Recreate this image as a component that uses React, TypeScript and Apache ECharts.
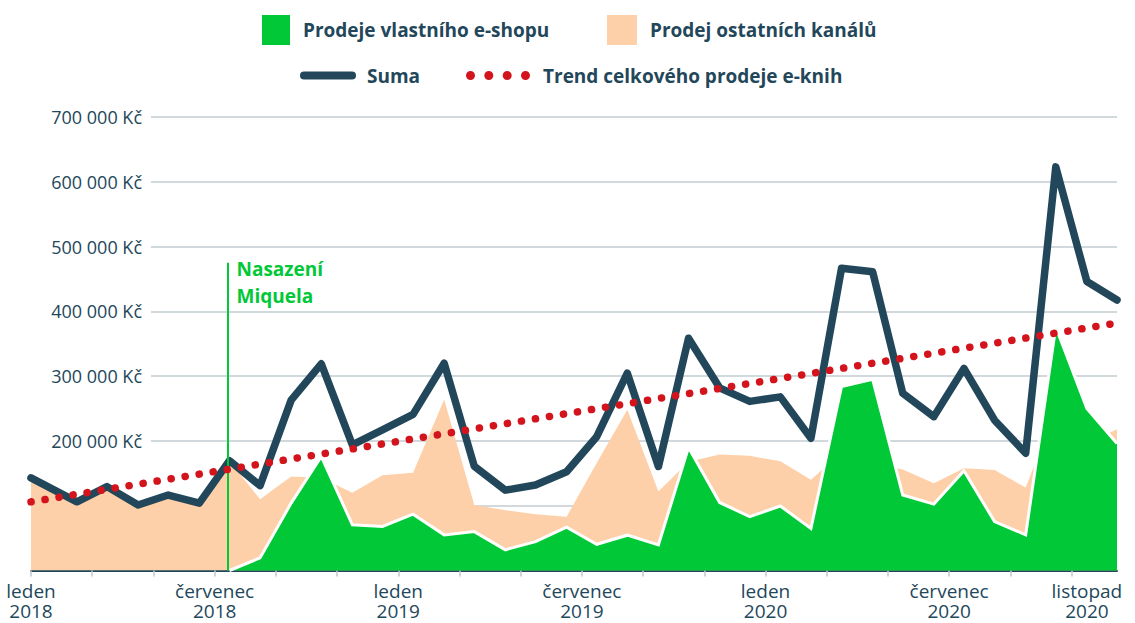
import React, { useEffect, useRef } from 'react';
import * as echarts from 'echarts';

// ---------- DATA ----------
const dates = [
  '2018-01-01', '2018-02-15', '2018-03-16', '2018-04-16', '2018-05-16', '2018-06-16',
  '2018-07-16', '2018-08-16', '2018-09-16', '2018-10-16', '2018-11-16', '2018-12-16',
  '2019-01-16', '2019-02-15', '2019-03-16', '2019-04-16', '2019-05-16', '2019-06-16',
  '2019-07-16', '2019-08-16', '2019-09-16', '2019-10-16', '2019-11-16', '2019-12-16',
  '2020-01-16', '2020-02-15', '2020-03-16', '2020-04-16', '2020-05-16', '2020-06-16',
  '2020-07-16', '2020-08-16', '2020-09-16', '2020-10-16', '2020-11-16', '2020-12-16',
];

const eshopSales: (number | null)[] = [
  null, null, null, null, null, null,
  0, 19500, 104000, 176000, 70500, 68000,
  87000, 55000, 60000, 32000, 44500, 67000,
  40500, 54500, 39500, 190000, 105000, 83000,
  99500, 65000, 284000, 295000, 116500, 102500,
  154000, 75500, 55000, 376000, 250000, 196000,
];

const otherSales = [
  143000, 106000, 129500, 101000, 116500, 104000,
  169500, 110000, 145000, 143000, 120000, 147000,
  151000, 264000, 101000, 93000, 87000, 83000,
  166000, 248000, 122000, 168000, 179000, 177000,
  168500, 140000, 182000, 166000, 156000, 134500,
  158000, 155000, 128000, 247000, 196000, 218000,
];

const totalSales = [
  143000, 106000, 129500, 101000, 116500, 104000,
  169500, 131000, 263000, 319000, 194000, 217000,
  241000, 320000, 161000, 124000, 132000, 152500,
  206500, 304500, 160500, 358500, 282000, 261000,
  268000, 204000, 466500, 461000, 273500, 237500,
  312000, 232000, 181000, 623000, 446000, 417500,
];

const trendDates = ['2018-01-01', '2020-12-16'];
const trendValues = [106000, 382000];

const tickDates = [
  '2018-01-01', '2018-03-01', '2018-05-01', '2018-07-01', '2018-09-01', '2018-11-01',
  '2019-01-01', '2019-03-01', '2019-05-01', '2019-07-01', '2019-09-01', '2019-11-01',
  '2020-01-01', '2020-03-01', '2020-05-01', '2020-07-01', '2020-09-01', '2020-11-01',
];
const xLabelDates = ['2018-01-01', '2018-07-01', '2019-01-01', '2019-07-01', '2020-01-01', '2020-07-01', '2020-11-16'];
const xLabels = ['leden\n2018', 'červenec\n2018', 'leden\n2019', 'červenec\n2019', 'leden\n2020', 'červenec\n2020', 'listopad\n2020'];

const yMax = 700000;
const yStep = 100000;
const yFirstLabel = 200000;

const miquelaDate = '2018-07-14';
const miquelaTop = 475000;
const miquelaText = 'Nasazení\nMiquela';

const seriesNames = {
  eshop: 'Prodeje vlastního e-shopu',
  other: 'Prodej ostatních kanálů',
  total: 'Suma',
  trend: 'Trend celkového prodeje e-knih',
};

// ---------- HELPERS ----------
const monthPos = (d: string) => {
  const [y, m, day] = d.split('-').map(Number);
  const dim = new Date(y, m, 0).getDate();
  return (y - 2018) * 12 + (m - 1) + (day - 1) / dim;
};

const GREEN = '#00c837';
const PEACH = '#fed0a9';
const DARK = '#23475a';
const RED = '#d3141c';
const FONT = '"Open Sans", sans-serif';

export default function App() {
  const ref = useRef<HTMLDivElement>(null);

  useEffect(() => {
    if (!ref.current) return;
    const chart = echarts.init(ref.current, undefined, { renderer: 'svg' });
    const xs = dates.map(monthPos);
    const xMax = monthPos(dates[dates.length - 1]);
    const gridPos = { top: 117, bottom: 52.5 };

    const legendText = {
      fontSize: 19,
      fontWeight: 'bold' as const,
      color: DARK,
      fontFamily: FONT,
      padding: [0, 0, 0, 8],
    };
    const legendText2 = { ...legendText, padding: [0, 0, 0, 6] };

    chart.setOption({
      animation: false,
      textStyle: { fontFamily: FONT },
      legend: [
        {
          data: [{ name: seriesNames.eshop, icon: 'rect', itemStyle: { color: GREEN, borderWidth: 0 } }],
          left: 262, top: 15, padding: 0, itemWidth: 28, itemHeight: 30, selectedMode: false, textStyle: legendText,
        },
        {
          data: [{ name: seriesNames.other, icon: 'rect', itemStyle: { color: PEACH, borderWidth: 0 } }],
          left: 607, top: 15, padding: 0, itemWidth: 30, itemHeight: 30, selectedMode: false, textStyle: legendText,
        },
        {
          data: [{
            name: seriesNames.total,
            icon: 'path://M4 0H52A4 4 0 0 1 52 8H4A4 4 0 0 1 4 0Z',
            itemStyle: { color: DARK, borderWidth: 0 },
          }],
          left: 300, top: 66, padding: 0, itemWidth: 56, itemHeight: 8, selectedMode: false, textStyle: legendText2,
        },
        {
          data: [{
            name: seriesNames.trend,
            icon: 'path://M0 4.5a4.5 4.5 0 1 0 9 0a4.5 4.5 0 1 0 -9 0Z M18.3 4.5a4.5 4.5 0 1 0 9 0a4.5 4.5 0 1 0 -9 0Z M36.7 4.5a4.5 4.5 0 1 0 9 0a4.5 4.5 0 1 0 -9 0Z M55 4.5a4.5 4.5 0 1 0 9 0a4.5 4.5 0 1 0 -9 0Z',
            itemStyle: { color: RED, borderWidth: 0 },
          }],
          left: 466, top: 66, padding: 0, itemWidth: 64, itemHeight: 9, selectedMode: false, textStyle: legendText,
        },
      ],
      grid: [
        { left: 31, right: 18, ...gridPos },
        { left: 151, right: 18, ...gridPos },
      ],
      xAxis: [
        {
          type: 'value',
          gridIndex: 0,
          min: 0,
          max: xMax,
          splitLine: { show: false },
          axisLine: { show: true, onZero: false, lineStyle: { color: DARK, width: 2 } },
          axisTick: {
            show: true,
            length: 6,
            customValues: tickDates.map(monthPos),
            lineStyle: { color: '#bfc8ce', width: 1.5 },
          },
          axisLabel: {
            show: true,
            customValues: xLabelDates.map(monthPos),
            margin: 10,
            color: DARK,
            fontSize: 19,
            fontWeight: 500,
            lineHeight: 20,
            fontFamily: FONT,
            formatter: (v: number) => {
              const i = xLabelDates.findIndex((d) => Math.abs(monthPos(d) - v) < 0.01);
              return i >= 0 ? xLabels[i] : '';
            },
          },
        },
        { type: 'value', gridIndex: 1, min: 0, max: 1, show: false },
      ],
      yAxis: [
        {
          type: 'value',
          gridIndex: 0,
          min: 0,
          max: yMax,
          interval: yStep,
          axisLine: { show: false },
          axisTick: { show: false },
          splitLine: { show: false },
          axisLabel: {
            inside: true,
            align: 'right',
            margin: 111,
            color: DARK,
            fontSize: 18,
            fontWeight: 500,
            fontFamily: FONT,
            formatter: (v: number) => (v >= yFirstLabel ? `${v / 1000} 000 Kč` : ''),
          },
        },
        {
          type: 'value',
          gridIndex: 1,
          min: 0,
          max: yMax,
          interval: yStep,
          axisLine: { show: false },
          axisTick: { show: false },
          axisLabel: { show: false },
          splitLine: { show: true, lineStyle: { color: '#c3ccd2', width: 1.5 } },
        },
      ],
      series: [
        {
          name: seriesNames.other,
          type: 'line',
          xAxisIndex: 0,
          yAxisIndex: 0,
          data: otherSales.map((v, i) => [xs[i], v]),
          showSymbol: false,
          symbol: 'none',
          itemStyle: { color: PEACH },
          lineStyle: { width: 0, color: PEACH },
          areaStyle: { color: PEACH, opacity: 1 },
          z: 2,
        },
        {
          name: seriesNames.eshop,
          type: 'line',
          xAxisIndex: 0,
          yAxisIndex: 0,
          data: eshopSales.map((v, i) => [xs[i], v]),
          showSymbol: false,
          symbol: 'none',
          connectNulls: false,
          itemStyle: { color: GREEN },
          lineStyle: { width: 3, color: '#ffffff', join: 'miter' },
          areaStyle: { color: GREEN, opacity: 1 },
          z: 3,
          markLine: {
            silent: true,
            symbol: 'none',
            animation: false,
            label: { show: false },
            lineStyle: { color: GREEN, width: 2, type: 'solid' },
            data: [[{ coord: [monthPos(miquelaDate), 0] }, { coord: [monthPos(miquelaDate), miquelaTop] }]],
          },
          markPoint: {
            silent: true,
            symbol: 'circle',
            symbolSize: 0,
            animation: false,
            data: [{ coord: [monthPos(miquelaDate), miquelaTop] }],
            label: {
              show: true,
              formatter: miquelaText,
              position: [9, -7],
              align: 'left',
              verticalAlign: 'top',
              color: GREEN,
              fontSize: 19,
              fontWeight: 'bold',
              lineHeight: 27,
              fontFamily: FONT,
            },
          },
        },
        {
          name: seriesNames.total,
          type: 'line',
          xAxisIndex: 0,
          yAxisIndex: 0,
          data: totalSales.map((v, i) => [xs[i], v]),
          showSymbol: false,
          symbol: 'none',
          itemStyle: { color: DARK },
          lineStyle: { width: 7.5, color: DARK, join: 'round', cap: 'round' },
          z: 4,
        },
        {
          name: seriesNames.trend,
          type: 'line',
          xAxisIndex: 0,
          yAxisIndex: 0,
          data: trendValues.map((v, i) => [monthPos(trendDates[i]), v]),
          showSymbol: false,
          symbol: 'none',
          itemStyle: { color: RED },
          lineStyle: { width: 7.5, color: RED, type: [0.1, 14.1], cap: 'round' },
          z: 5,
        },
      ],
    });

    return () => chart.dispose();
  }, []);

  return (
    <div
      ref={ref}
      style={{ position: 'fixed', left: 0, top: 0, width: 1135, height: 623, background: '#fff' }}
    />
  );
}
